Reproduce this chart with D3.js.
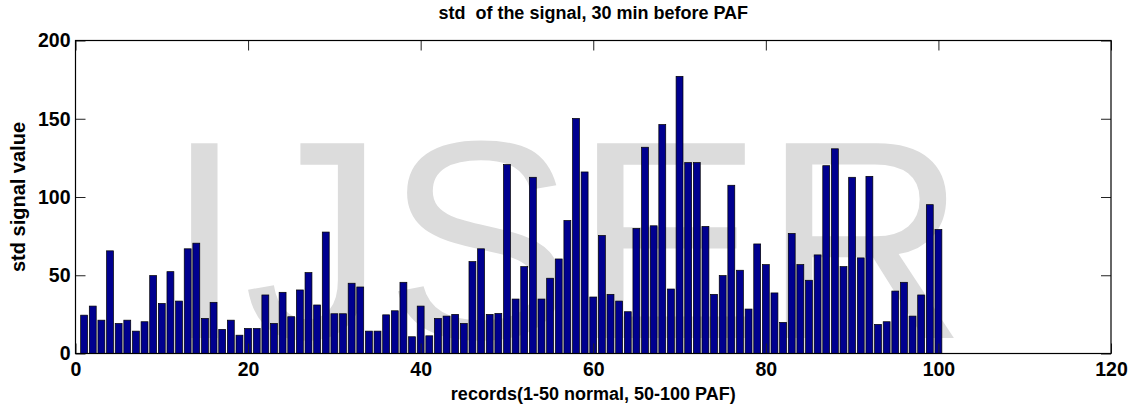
<!DOCTYPE html>
<html>
<head>
<meta charset="utf-8">
<script src="https://cdn.jsdelivr.net/npm/d3@7"></script>
<style>
  html, body { margin: 0; padding: 0; background: #fff; }
  svg { display: block; }
  text { font-family: "Liberation Sans", Arial, sans-serif; }
</style>
</head>
<body>
<svg id="chart" width="1135" height="407"></svg>
<script>
// std of the signal per record (records 1..100)
const stdValues = [
  24.5, 30.3, 21.3, 65.6, 19.2, 21.3, 14.3, 20.3, 49.8, 32.0,
  52.3, 33.5, 66.9, 70.5, 22.4, 32.7, 15.4, 21.3, 11.7, 16.0,
  16.0, 37.4, 19.2, 39.1, 23.5, 40.6, 51.7, 31.0, 77.6, 25.4,
  25.4, 44.9, 42.5, 14.3, 14.3, 24.7, 27.3, 45.5, 10.7, 30.3,
  11.3, 22.4, 23.9, 25.0, 19.2, 58.7, 66.9, 25.0, 25.6, 120.7,
  34.8, 55.5, 112.6, 34.8, 48.1, 60.4, 85.0, 150.2, 116.0, 36.1,
  75.4, 37.8, 33.5, 26.7, 79.9, 131.8, 81.6, 146.3, 41.2, 177.1,
  122.0, 122.0, 81.2, 37.8, 49.8, 107.5, 53.2, 28.4, 70.0, 56.8,
  38.7, 19.9, 76.7, 56.8, 46.8, 63.0, 120.0, 130.8, 55.5, 112.6,
  61.1, 113.2, 18.6, 20.3, 39.9, 45.5, 23.9, 37.4, 95.1, 79.2
];
const xTicks = [0, 20, 40, 60, 80, 100, 120];
const yTicks = [0, 50, 100, 150, 200];
const titleText = "std  of the signal, 30 min before PAF";
const xLabel = "records(1-50 normal, 50-100 PAF)";
const yLabel = "std signal value";
const watermark = "IJSER";

const svg = d3.select("#chart");
const L = 75.5, R = 1111, T = 40.5, B = 353.5;

const x = d3.scaleLinear().domain([0, 120]).range([L, R]);
const y = d3.scaleLinear().domain([0, 200]).range([B, T]);
const barW = x(0.8) - x(0);

// watermark sits behind the bars
svg.append("text")
  .attr("x", 165).attr("y", 338)
  .attr("font-size", 283)
  .attr("fill", "#dcdcdc")
  .text(watermark);

// bars
svg.append("g")
  .selectAll("rect")
  .data(stdValues)
  .join("rect")
  .attr("x", (d, i) => x(i + 1) - barW / 2)
  .attr("y", d => y(d))
  .attr("width", barW)
  .attr("height", d => y(0) - y(d))
  .attr("fill", "#00008f")
  .attr("stroke", "#000")
  .attr("stroke-width", 0.7);

// axes (ticks point inward, like matlab)
const axStyle = g => {
  g.select(".domain").remove();
  g.selectAll("line").attr("stroke", "#222");
  g.selectAll("text")
    .attr("font-size", 19.5).attr("font-weight", "bold")
    .attr("font-family", "'Liberation Sans', Arial, sans-serif")
    .attr("fill", "#000");
};

svg.append("g")
  .attr("transform", `translate(0,${B})`)
  .call(d3.axisBottom(x).tickValues(xTicks).tickSizeInner(-10).tickSizeOuter(0).tickPadding(9))
  .call(axStyle);

svg.append("g")
  .attr("transform", `translate(0,${T})`)
  .call(d3.axisTop(x).tickValues(xTicks).tickSizeInner(-10).tickSizeOuter(0).tickFormat(""))
  .call(axStyle);

svg.append("g")
  .attr("transform", `translate(${L},0)`)
  .call(d3.axisLeft(y).tickValues(yTicks).tickSizeInner(-10).tickSizeOuter(0).tickPadding(5))
  .call(axStyle);

svg.append("g")
  .attr("transform", `translate(${R},0)`)
  .call(d3.axisRight(y).tickValues(yTicks).tickSizeInner(-10).tickSizeOuter(0).tickFormat(""))
  .call(axStyle);

// box
svg.append("rect")
  .attr("x", L).attr("y", T)
  .attr("width", R - L).attr("height", B - T)
  .attr("fill", "none").attr("stroke", "#000").attr("stroke-width", 1.2);

// title and labels
svg.append("text")
  .attr("x", (L + R) / 2).attr("y", 19)
  .attr("text-anchor", "middle")
  .attr("font-size", 18).attr("font-weight", "bold")
  .style("white-space", "pre")
  .text(titleText);

svg.append("text")
  .attr("x", (L + R) / 2).attr("y", 400)
  .attr("text-anchor", "middle")
  .attr("font-size", 18).attr("font-weight", "bold")
  .text(xLabel);

svg.append("text")
  .attr("transform", `translate(25,${(T + B) / 2}) rotate(-90)`)
  .attr("text-anchor", "middle")
  .attr("font-size", 20).attr("font-weight", "bold")
  .text(yLabel);
</script>
</body>
</html>
